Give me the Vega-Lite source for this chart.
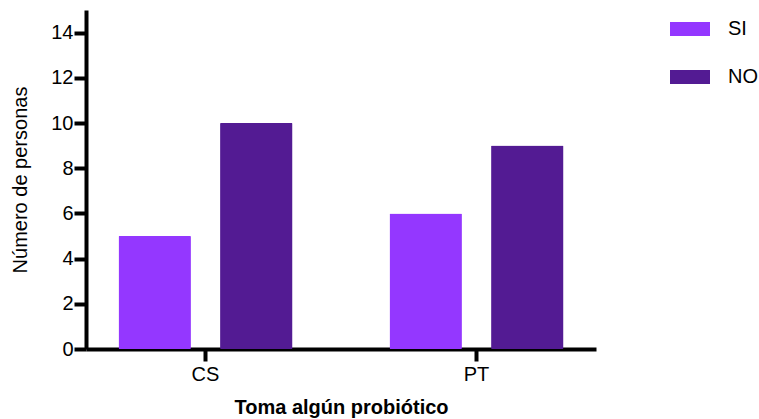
{
  "$schema": "https://vega.github.io/schema/vega-lite/v6.json",
  "width": 510,
  "height": 339,
  "autosize": {"type": "none"},
  "padding": {"left": 86, "top": 10, "right": 163, "bottom": 70},
  "background": "white",
  "config": {
    "view": {"stroke": null},
    "font": "Liberation Sans"
  },
  "data": {
    "values": [
      {"grupo": "CS", "respuesta": "SI", "n": 5},
      {"grupo": "CS", "respuesta": "NO", "n": 10},
      {"grupo": "PT", "respuesta": "SI", "n": 6},
      {"grupo": "PT", "respuesta": "NO", "n": 9}
    ]
  },
  "mark": {"type": "bar", "cornerRadius": 1},
  "encoding": {
    "x": {
      "field": "grupo",
      "type": "nominal",
      "sort": ["CS", "PT"],
      "scale": {"paddingInner": 0.358, "paddingOuter": 0.12},
      "axis": {
        "title": "Toma algún probiótico",
        "titleFont": "Liberation Sans",
        "titleFontSize": 20,
        "titleFontWeight": "bold",
        "titleColor": "black",
        "titlePadding": 13,
        "labelFont": "Liberation Sans",
        "labelFontSize": 20,
        "labelColor": "black",
        "labelAngle": 0,
        "labelPadding": 3,
        "domainColor": "black",
        "domainWidth": 4,
        "tickColor": "black",
        "tickWidth": 4,
        "tickSize": 12
      }
    },
    "xOffset": {
      "field": "respuesta",
      "type": "nominal",
      "sort": ["SI", "NO"],
      "scale": {"paddingInner": 0.287, "paddingOuter": 0}
    },
    "y": {
      "field": "n",
      "type": "quantitative",
      "scale": {"domain": [0, 15], "nice": false},
      "axis": {
        "values": [0, 2, 4, 6, 8, 10, 12, 14],
        "title": "Número de personas",
        "titleFont": "Liberation Sans",
        "titleFontSize": 20,
        "titleFontWeight": "normal",
        "titleColor": "black",
        "titlePadding": 20,
        "labelFont": "Liberation Sans",
        "labelFontSize": 20,
        "labelColor": "black",
        "labelPadding": 1,
        "grid": false,
        "domainColor": "black",
        "domainWidth": 4,
        "tickColor": "black",
        "tickWidth": 4,
        "tickSize": 12
      }
    },
    "color": {
      "field": "respuesta",
      "type": "nominal",
      "sort": ["SI", "NO"],
      "scale": {"domain": ["SI", "NO"], "range": ["#9437FF", "#531B93"]},
      "legend": {
        "title": null,
        "orient": "none",
        "legendX": 584,
        "legendY": -1,
        "symbolType": "M-1,-0.35L1,-0.35L1,0.35L-1,0.35Z",
        "symbolSize": 1600,
        "symbolStrokeWidth": 0,
        "symbolOpacity": 1,
        "labelFont": "Liberation Sans",
        "labelFontSize": 20,
        "labelColor": "black",
        "labelOffset": 18,
        "rowPadding": 18
      }
    }
  }
}
